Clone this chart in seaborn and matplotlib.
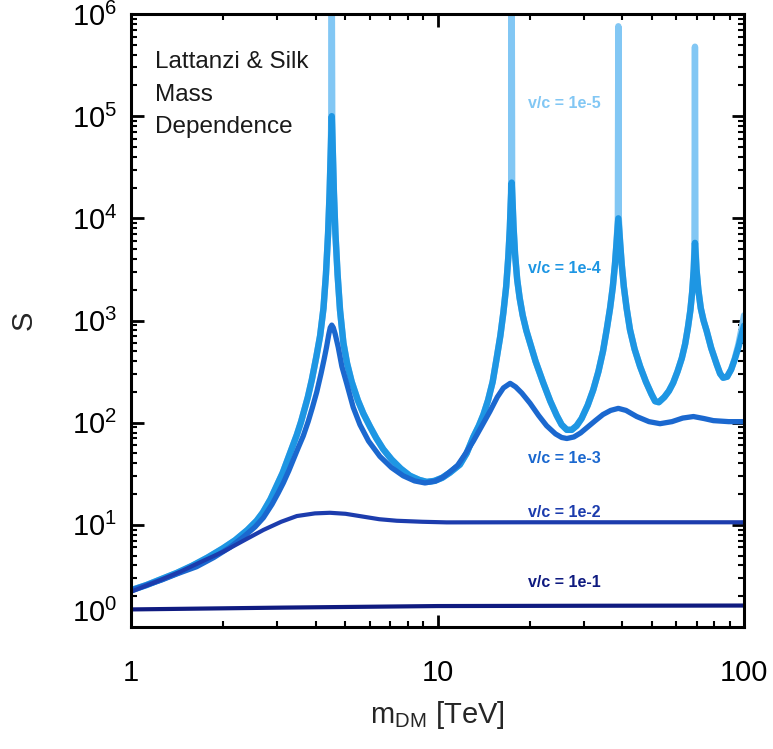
import numpy as np
import pandas as pd
import matplotlib
matplotlib.use("Agg")
import matplotlib.pyplot as plt
import matplotlib.ticker as mticker
from matplotlib.transforms import ScaledTranslation
import seaborn as sns

# Sommerfeld enhancement S versus dark-matter mass, one curve per velocity.
# Values are given as log10(m / TeV) and log10(S).
log_m_v5 = [0.000, 0.050, 0.100, 0.150, 0.200, 0.250, 0.300, 0.340, 0.380, 0.410,
            0.430, 0.455, 0.475, 0.495, 0.510, 0.525, 0.541, 0.555, 0.565, 0.577,
            0.590, 0.605, 0.617, 0.628, 0.636, 0.643, 0.648, 0.652, 0.6535, 0.655,
            0.6565, 0.658, 0.662, 0.667, 0.674, 0.682, 0.693, 0.705, 0.720, 0.740,
            0.758, 0.780, 0.800, 0.823, 0.850, 0.880, 0.910, 0.940, 0.965, 0.990,
            1.015, 1.040, 1.073, 1.095, 1.117, 1.135, 1.150, 1.165, 1.180, 1.193,
            1.205, 1.215, 1.224, 1.231, 1.236, 1.239, 1.2405, 1.242, 1.2435, 1.245,
            1.248, 1.253, 1.260, 1.268, 1.278, 1.290, 1.302, 1.320, 1.345, 1.368,
            1.389, 1.405, 1.422, 1.438, 1.454, 1.470, 1.490, 1.508, 1.525, 1.540,
            1.552, 1.563, 1.572, 1.579, 1.584, 1.5885, 1.590, 1.5915, 1.596, 1.601,
            1.608, 1.617, 1.628, 1.643, 1.661, 1.680, 1.698, 1.710, 1.722, 1.740,
            1.755, 1.769, 1.783, 1.797, 1.808, 1.817, 1.825, 1.831, 1.836, 1.8385,
            1.840, 1.8415, 1.845, 1.851, 1.859, 1.868, 1.878, 1.893, 1.911, 1.922,
            1.932, 1.945, 1.958, 1.970, 1.982, 1.992, 2.000]
log_S_v5 = [0.36, 0.41, 0.47, 0.53, 0.60, 0.68, 0.77, 0.85, 0.95, 1.04,
            1.12, 1.25, 1.38, 1.51, 1.63, 1.75, 1.88, 2.01, 2.12, 2.25,
            2.42, 2.65, 2.85, 3.12, 3.45, 3.85, 4.25, 4.70, 5.00, 6.40,
            5.00, 4.70, 4.25, 3.85, 3.45, 3.10, 2.78, 2.58, 2.40, 2.22,
            2.09, 1.96, 1.85, 1.74, 1.64, 1.55, 1.48, 1.44, 1.42, 1.43,
            1.46, 1.51, 1.59, 1.70, 1.86, 1.97, 2.08, 2.22, 2.40, 2.63,
            2.85, 3.08, 3.33, 3.62, 3.90, 4.15, 4.35, 6.40, 4.35, 4.15,
            3.92, 3.65, 3.40, 3.22, 3.05, 2.90, 2.78, 2.60, 2.39, 2.21,
            2.07, 1.98, 1.93, 1.93, 1.97, 2.04, 2.17, 2.32, 2.50, 2.70,
            2.91, 3.12, 3.33, 3.55, 3.75, 4.00, 5.88, 4.00, 3.75, 3.55,
            3.33, 3.12, 2.91, 2.72, 2.55, 2.40, 2.28, 2.21, 2.20, 2.25,
            2.31, 2.39, 2.50, 2.63, 2.77, 2.93, 3.10, 3.28, 3.50, 3.76,
            5.68, 3.76, 3.50, 3.30, 3.12, 3.00, 2.90, 2.73, 2.57, 2.48,
            2.44, 2.45, 2.52, 2.63, 2.77, 2.92, 3.05]

log_m_v4 = [0.000, 0.050, 0.100, 0.150, 0.200, 0.250, 0.300, 0.340, 0.380, 0.410,
            0.430, 0.455, 0.475, 0.495, 0.510, 0.525, 0.541, 0.555, 0.565, 0.577,
            0.590, 0.605, 0.617, 0.628, 0.636, 0.643, 0.648, 0.652, 0.655, 0.658,
            0.662, 0.667, 0.674, 0.682, 0.693, 0.705, 0.720, 0.740, 0.758, 0.780,
            0.800, 0.823, 0.850, 0.880, 0.910, 0.940, 0.965, 0.990, 1.015, 1.040,
            1.073, 1.095, 1.117, 1.135, 1.150, 1.165, 1.180, 1.193, 1.205, 1.215,
            1.224, 1.231, 1.236, 1.239, 1.242, 1.245, 1.248, 1.253, 1.260, 1.268,
            1.278, 1.290, 1.302, 1.320, 1.345, 1.368, 1.389, 1.405, 1.422, 1.438,
            1.454, 1.470, 1.490, 1.508, 1.525, 1.540, 1.552, 1.563, 1.572, 1.579,
            1.584, 1.590, 1.596, 1.601, 1.608, 1.617, 1.628, 1.643, 1.661, 1.680,
            1.698, 1.710, 1.722, 1.740, 1.755, 1.769, 1.783, 1.797, 1.808, 1.817,
            1.825, 1.831, 1.836, 1.840, 1.845, 1.851, 1.859, 1.868, 1.878, 1.893,
            1.911, 1.922, 1.932, 1.945, 1.958, 1.970, 1.982, 1.992, 2.000]
log_S_v4 = [0.36, 0.41, 0.47, 0.53, 0.60, 0.68, 0.77, 0.85, 0.95, 1.04,
            1.12, 1.25, 1.38, 1.51, 1.63, 1.75, 1.88, 2.01, 2.12, 2.25,
            2.42, 2.65, 2.85, 3.12, 3.45, 3.85, 4.25, 4.70, 5.00, 4.70,
            4.25, 3.85, 3.45, 3.10, 2.78, 2.58, 2.40, 2.22, 2.09, 1.96,
            1.85, 1.74, 1.64, 1.55, 1.48, 1.44, 1.42, 1.43, 1.46, 1.51,
            1.59, 1.70, 1.86, 1.97, 2.08, 2.22, 2.40, 2.63, 2.85, 3.08,
            3.33, 3.62, 3.90, 4.15, 4.35, 4.15, 3.92, 3.65, 3.40, 3.22,
            3.05, 2.90, 2.78, 2.60, 2.39, 2.21, 2.07, 1.98, 1.93, 1.93,
            1.97, 2.04, 2.17, 2.32, 2.50, 2.70, 2.91, 3.12, 3.33, 3.55,
            3.75, 4.00, 3.75, 3.55, 3.33, 3.12, 2.91, 2.72, 2.55, 2.40,
            2.28, 2.21, 2.20, 2.25, 2.31, 2.39, 2.50, 2.63, 2.77, 2.93,
            3.10, 3.28, 3.50, 3.76, 3.50, 3.30, 3.12, 3.00, 2.90, 2.73,
            2.57, 2.48, 2.44, 2.45, 2.52, 2.62, 2.74, 2.86, 2.95]

log_m_v3 = [0.000, 0.050, 0.100, 0.150, 0.214, 0.270, 0.323, 0.370, 0.405, 0.432,
            0.460, 0.480, 0.497, 0.515, 0.530, 0.545, 0.562, 0.578, 0.592, 0.606,
            0.620, 0.630, 0.638, 0.645, 0.650, 0.655, 0.660, 0.666, 0.676, 0.688,
            0.704, 0.725, 0.747, 0.775, 0.812, 0.850, 0.888, 0.925, 0.959, 0.995,
            1.020, 1.041, 1.065, 1.090, 1.117, 1.145, 1.171, 1.195, 1.215, 1.237,
            1.255, 1.275, 1.302, 1.330, 1.356, 1.385, 1.405, 1.422, 1.445, 1.467,
            1.487, 1.515, 1.540, 1.565, 1.590, 1.615, 1.650, 1.690, 1.726, 1.765,
            1.800, 1.835, 1.870, 1.900, 1.950, 2.000]
log_S_v3 = [0.36, 0.41, 0.46, 0.52, 0.59, 0.68, 0.78, 0.89, 0.98, 1.07,
            1.20, 1.31, 1.41, 1.53, 1.64, 1.75, 1.87, 2.01, 2.15, 2.30,
            2.48, 2.62, 2.74, 2.86, 2.93, 2.955, 2.93, 2.87, 2.74, 2.55,
            2.38, 2.15, 1.98, 1.82, 1.67, 1.56, 1.48, 1.43, 1.41, 1.43,
            1.47, 1.52, 1.58, 1.69, 1.82, 1.97, 2.11, 2.25, 2.34, 2.385,
            2.35, 2.29, 2.19, 2.07, 1.97, 1.89, 1.855, 1.845, 1.86, 1.90,
            1.95, 2.02, 2.08, 2.12, 2.14, 2.12, 2.06, 2.01, 1.99, 2.01,
            2.045, 2.06, 2.04, 2.02, 2.01, 2.01]

log_m_v2 = [0.000, 0.080, 0.160, 0.230, 0.301, 0.370, 0.432, 0.490, 0.541, 0.600,
            0.649, 0.700, 0.758, 0.810, 0.867, 0.950, 1.030, 1.300, 2.000]
log_S_v2 = [0.345, 0.44, 0.54, 0.64, 0.737, 0.85, 0.95, 1.03, 1.086, 1.112,
            1.118, 1.108, 1.08, 1.055, 1.04, 1.03, 1.024, 1.025, 1.025]

log_m_v1 = [0.0, 0.5, 1.0, 1.5, 2.0]
log_S_v1 = [0.172, 0.19, 0.205, 0.208, 0.21]

curve_names = ["v/c = 1e-5", "v/c = 1e-4", "v/c = 1e-3", "v/c = 1e-2", "v/c = 1e-1"]
curve_colors = ["#82c7f4", "#1e96e3", "#1b68cf", "#1c3cad", "#0f1b80"]
curve_widths = [4.6, 4.6, 3.8, 3.0, 3.0]

y_tick_values = [1e0, 1e1, 1e2, 1e3, 1e4, 1e5, 1e6]
y_tick_labels = ["10$^{0}$", "10$^{1}$", "10$^{2}$", "10$^{3}$",
                 "10$^{4}$", "10$^{5}$", "10$^{6}$"]
x_tick_values = [1, 10, 100]
x_tick_labels = ["1", "10", "100"]

sns.set_theme(style="ticks")
plt.rcParams["font.family"] = ["Liberation Sans", "DejaVu Sans"]
plt.rcParams["mathtext.fontset"] = "custom"
plt.rcParams["mathtext.rm"] = "Liberation Sans"
plt.rcParams["mathtext.it"] = "Liberation Sans:italic"
plt.rcParams["mathtext.bf"] = "Liberation Sans:bold"
plt.rcParams["mathtext.default"] = "regular"

series = [(log_m_v5, log_S_v5), (log_m_v4, log_S_v4), (log_m_v3, log_S_v3),
          (log_m_v2, log_S_v2), (log_m_v1, log_S_v1)]
frames = []
for name, (lm, ls) in zip(curve_names, series):
    frames.append(pd.DataFrame({"m": np.power(10.0, lm), "S": np.power(10.0, ls), "curve": name}))
df = pd.concat(frames, ignore_index=True)

fig = plt.figure(figsize=(7.73, 7.49), dpi=100)
ax = fig.add_axes([131 / 773, 1 - 627 / 749, 613 / 773, 613 / 749])

for name, color, lw in zip(curve_names, curve_colors, curve_widths):
    sub = df[df["curve"] == name]
    sns.lineplot(data=sub, x="m", y="S", ax=ax, color=color, linewidth=lw,
                 sort=False, estimator=None, legend=False)

ax.set_xscale("log")
ax.set_yscale("log")
ax.set_xlim(1, 100)
ax.set_ylim(1, 1e6)

ax.set_xticks(x_tick_values, x_tick_labels)
ax.set_yticks(y_tick_values, y_tick_labels)
ax.xaxis.set_minor_locator(mticker.LogLocator(base=10, subs=np.arange(2, 10)))
ax.yaxis.set_minor_locator(mticker.LogLocator(base=10, subs=np.arange(2, 10), numticks=20))
ax.xaxis.set_minor_formatter(mticker.NullFormatter())
ax.yaxis.set_minor_formatter(mticker.NullFormatter())

ax.tick_params(which="both", direction="in", top=True, right=True, colors="black")
ax.tick_params(which="major", length=9, width=2.0, labelsize=21)
ax.tick_params(which="minor", length=4.5, width=1.5)
ax.tick_params(axis="x", which="major", pad=23)
ax.tick_params(axis="y", which="major", pad=10)
for sp in ax.spines.values():
    sp.set_linewidth(2.2)
    sp.set_color("black")

# lift the bottom decade label off the x axis
lbl0 = ax.get_yticklabels()[0]
lbl0.set_transform(lbl0.get_transform() + ScaledTranslation(0, 12 / 72, fig.dpi_scale_trans))

ax.set_xlabel(r"m$_{\mathrm{DM}}$ [TeV]", fontsize=21)
ax.set_ylabel("S", fontsize=21)
ax.xaxis.set_label_coords(0.5, -0.118)
ax.yaxis.set_label_coords(-0.152, 0.5)
ax.xaxis.label.set_verticalalignment("top")

for txt, yf in zip(["Lattanzi & Silk", "Mass", "Dependence"], [0.912, 0.858, 0.806]):
    ax.text(0.039, yf, txt, transform=ax.transAxes, fontsize=17.5, color="#1a1a1a",
            ha="left", va="baseline")

label_y = [0.847, 0.5775, 0.2675, 0.179, 0.065]
for name, color, yf in zip(curve_names, curve_colors, label_y):
    ax.text(0.648, yf, name, transform=ax.transAxes, fontsize=11.5, color=color,
            fontweight="bold", ha="left", va="baseline")

fig.savefig("out.png", dpi=100)
